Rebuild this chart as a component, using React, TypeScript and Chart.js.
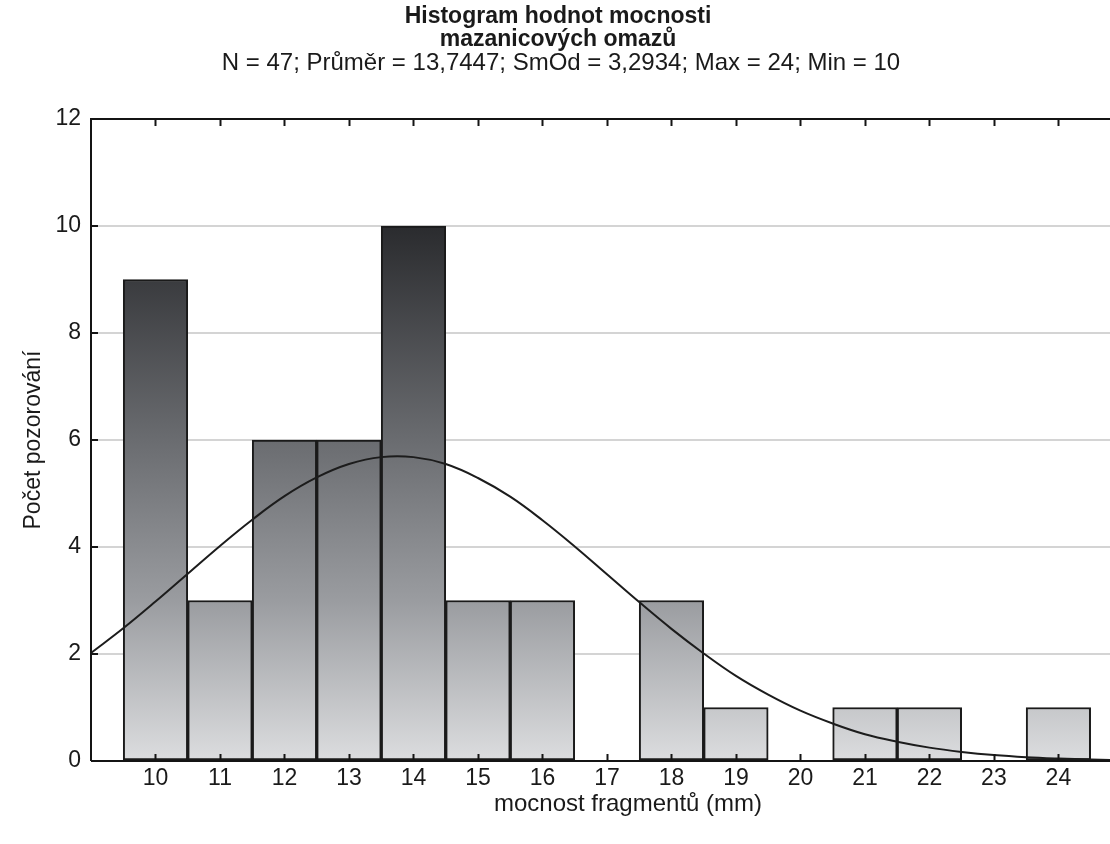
import React, { useEffect, useRef } from "react";
import { Chart, registerables } from "chart.js";

Chart.register(...registerables);

const TITLE_LINE_1 = "Histogram hodnot mocnosti";
const TITLE_LINE_2 = "mazanicových omazů";
const SUBTITLE = "N = 47; Průměr = 13,7447; SmOd = 3,2934; Max = 24; Min = 10";
const X_TITLE = "mocnost fragmentů (mm)";
const Y_TITLE = "Počet pozorování";

const BIN_CENTERS = [10, 11, 12, 13, 14, 15, 16, 17, 18, 19, 20, 21, 22, 23, 24];
const COUNTS = [9, 3, 6, 6, 10, 3, 3, 0, 3, 1, 0, 1, 1, 0, 1];

const CURVE_X = [9, 9.5, 10, 10.5, 11, 11.5, 12, 12.5, 13, 13.5, 14, 14.5, 15, 15.5, 16, 16.5, 17, 17.5, 18, 18.5, 19, 19.5, 20, 20.5, 21, 21.5, 22, 22.5, 23, 23.5, 24, 24.5, 24.8];
const CURVE_Y = [2.02, 2.48, 2.98, 3.5, 4.02, 4.51, 4.95, 5.3, 5.55, 5.68, 5.68, 5.55, 5.29, 4.94, 4.5, 4.01, 3.49, 2.97, 2.47, 2.01, 1.59, 1.24, 0.94, 0.7, 0.5, 0.36, 0.25, 0.17, 0.11, 0.07, 0.045, 0.028, 0.02];

const X_TICKS = [10, 11, 12, 13, 14, 15, 16, 17, 18, 19, 20, 21, 22, 23, 24];
const Y_TICKS = [0, 2, 4, 6, 8, 10, 12];

const FONT = '"Liberation Sans", Arial, sans-serif';

const framePlugin = {
  id: "frame",
  afterDatasetsDraw(chart: any) {
    const { ctx, chartArea, scales } = chart;
    const { left, top, bottom, right } = chartArea;
    ctx.save();
    ctx.strokeStyle = "#141414";
    ctx.lineWidth = 2;
    ctx.beginPath();
    ctx.moveTo(left, bottom);
    ctx.lineTo(left, top);
    ctx.lineTo(right + 5, top);
    ctx.moveTo(left, bottom);
    ctx.lineTo(right + 5, bottom);
    ctx.stroke();
    ctx.beginPath();
    for (const v of X_TICKS) {
      const px = Math.round(scales.x.getPixelForValue(v)) + 0.5;
      ctx.moveTo(px, bottom);
      ctx.lineTo(px, bottom - 7);
      ctx.moveTo(px, top);
      ctx.lineTo(px, top + 7);
    }
    for (const v of Y_TICKS) {
      if (v === 0 || v === 12) continue;
      const py = scales.y.getPixelForValue(v);
      ctx.moveTo(left, py);
      ctx.lineTo(left + 7, py);
    }
    ctx.stroke();
    ctx.restore();
  },
  afterDraw(chart: any) {
    const { ctx, chartArea } = chart;
    ctx.save();
    ctx.fillStyle = "#1a1a1a";
    ctx.textAlign = "center";
    ctx.textBaseline = "alphabetic";
    ctx.font = `bold 23px ${FONT}`;
    ctx.fillText(TITLE_LINE_1, 558, 23);
    ctx.fillText(TITLE_LINE_2, 558, 46);
    ctx.font = `24px ${FONT}`;
    ctx.fillText(SUBTITLE, 561, 70);
    ctx.textBaseline = "middle";
    ctx.fillText(X_TITLE, 628, 804);
    ctx.font = `23px ${FONT}`;
    ctx.translate(34, (chartArea.top + chartArea.bottom) / 2);
    ctx.rotate(-Math.PI / 2);
    ctx.fillText(Y_TITLE, 0, 0);
    ctx.restore();
  },
};

export default function App() {
  const ref = useRef<HTMLCanvasElement | null>(null);

  useEffect(() => {
    if (!ref.current) return;
    const barData = BIN_CENTERS.map((x, i) => ({ x, y: COUNTS[i] }));
    const curveData = CURVE_X.map((x, i) => ({ x, y: CURVE_Y[i] }));

    const chart = new Chart(ref.current, {
      type: "bar",
      data: {
        datasets: [
          {
            type: "line",
            data: curveData,
            borderColor: "#1c1c1c",
            borderWidth: 2,
            pointRadius: 0,
            tension: 0.4,
            fill: false,
            order: 0,
          } as any,
          {
            type: "bar",
            data: barData,
            barPercentage: 1,
            categoryPercentage: 1,
            borderWidth: 2,
            borderColor: "#1a1a1a",
            borderSkipped: false,
            order: 1,
            backgroundColor: (c: any) => {
              const ch = c.chart;
              const { ctx, chartArea, scales } = ch;
              if (!chartArea || !scales.y) return "#888";
              const g = ctx.createLinearGradient(0, scales.y.getPixelForValue(10), 0, scales.y.getPixelForValue(0));
              g.addColorStop(0, "#2a2b2e");
              g.addColorStop(0.4, "#6a6c70");
              g.addColorStop(0.7, "#9a9ca0");
              g.addColorStop(1, "#dcdddf");
              return g;
            },
          } as any,
        ],
      },
      options: {
        responsive: false,
        animation: false,
        layout: { padding: { top: 119, right: 0, left: 0, bottom: 0 } },
        plugins: {
          legend: { display: false },
          tooltip: { enabled: false },
          title: { display: false },
        },
        scales: {
          x: {
            type: "linear",
            min: 9,
            max: 24.8,
            offset: false,
            grid: { display: false, drawTicks: false },
            border: { display: false },
            afterBuildTicks: (s: any) => {
              s.ticks = X_TICKS.map((v) => ({ value: v }));
            },
            afterFit: (s: any) => {
              s.height = 83;
            },
            ticks: {
              autoSkip: false,
              maxRotation: 0,
              padding: 4,
              color: "#1a1a1a",
              font: { family: FONT, size: 23 },
              callback: (v: any) => String(v),
            },
          },
          y: {
            type: "linear",
            min: 0,
            max: 12,
            afterBuildTicks: (s: any) => {
              s.ticks = Y_TICKS.map((v) => ({ value: v }));
            },
            afterFit: (s: any) => {
              s.width = 91;
            },
            grid: { color: "#d4d4d4", lineWidth: 2, drawTicks: false },
            border: { display: false },
            ticks: {
              padding: 10,
              color: "#1a1a1a",
              font: { family: FONT, size: 23 },
              callback: (v: any) => String(v),
            },
          },
        },
      },
      plugins: [framePlugin],
    });
    return () => chart.destroy();
  }, []);

  return (
    <div style={{ position: "absolute", left: 0, top: 0, width: 1110, height: 844, background: "#fff" }}>
      <canvas ref={ref} width={1110} height={844} style={{ display: "block" }} />
    </div>
  );
}
